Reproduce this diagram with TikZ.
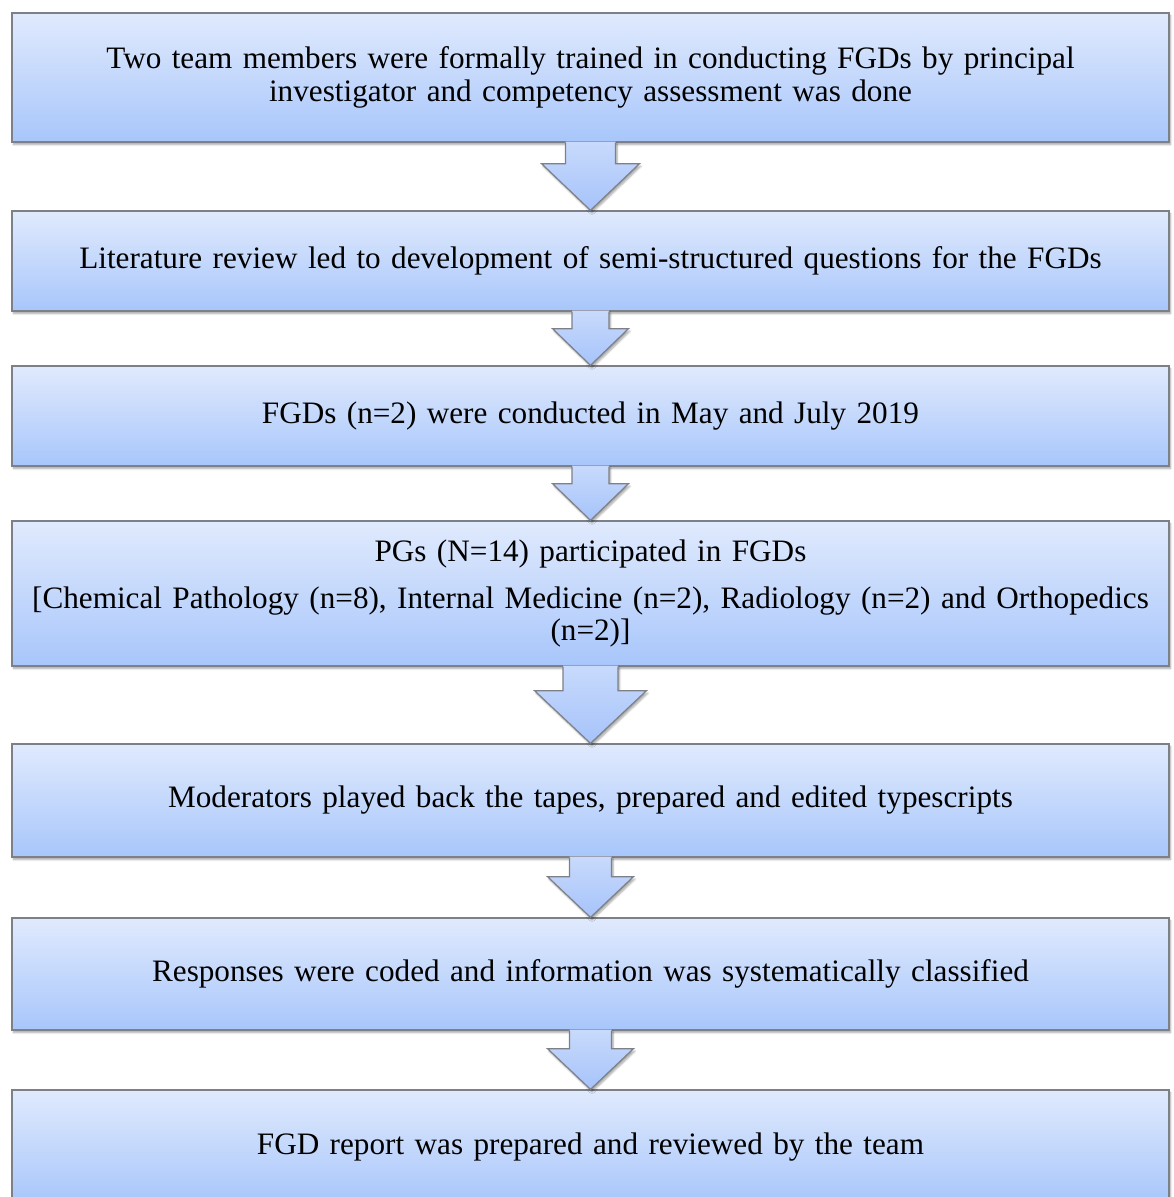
\documentclass[tikz,border=0pt]{standalone}
\usepackage{fontspec}
\setmainfont{Liberation Serif}
\usetikzlibrary{calc,shadows.blur}
\definecolor{boxtop}{RGB}{224,234,253}
\definecolor{boxbot}{RGB}{168,198,251}
\definecolor{arrtop}{RGB}{200,218,252}
\definecolor{arrbot}{RGB}{166,195,250}
\definecolor{edgegray}{RGB}{125,128,135}
\tikzset{
  flowbox/.style={draw=edgegray, line width=1.3pt, top color=boxtop, bottom color=boxbot,
    minimum width=1157pt, text width=1150pt, align=center, inner sep=0pt,
    font=\fontsize{31.2}{32.5}\selectfont,
    blur shadow={shadow xshift=1.5pt, shadow yshift=-2.5pt, shadow blur steps=6, shadow opacity=35}},
  arrowbody/.style={top color=arrtop, bottom color=arrbot,
    blur shadow={shadow xshift=1.5pt, shadow yshift=-2.5pt, shadow blur steps=6, shadow opacity=35}},
  arrowedge/.style={draw=edgegray, line width=1.2pt, line join=miter}
}
% #1 source, #2 target, #3 shaft half width, #4 head half width, #5 head start below source
\newcommand{\flowarrow}[5]{%
  \path[arrowbody] ($(#1.south)+(-#3,-1)$) -- ($(#1.south)+(-#3,#5)$) -- ($(#1.south)+(-#4,#5)$)
     -- (#2.north) -- ($(#1.south)+(#4,#5)$) -- ($(#1.south)+(#3,#5)$) -- ($(#1.south)+(#3,-1)$) -- cycle;
  \draw[arrowedge] ($(#1.south)+(-#3,0)$) -- ($(#1.south)+(-#3,#5)$) -- ($(#1.south)+(-#4,#5)$)
     -- (#2.north) -- ($(#1.south)+(#4,#5)$) -- ($(#1.south)+(#3,#5)$) -- ($(#1.south)+(#3,0)$);
}
\begin{document}
\begin{tikzpicture}[x=1pt, y={(0pt,-1pt)}]
\useasboundingbox (0,0) rectangle (1174,1197);
\node[flowbox, minimum height=129pt] (b1) at (590.5,77.5)
  {Two team members were formally trained in conducting FGDs by principal\\investigator and competency assessment was done};
\node[flowbox, minimum height=100pt] (b2) at (590.5,261)
  {Literature review led to development of semi-structured questions for the FGDs};
\node[flowbox, minimum height=100pt] (b3) at (590.5,416)
  {FGDs (n=2) were conducted in May and July 2019};
\node[flowbox, minimum height=145pt] (b4) at (590.5,593.5)
  {PGs (N=14) participated in FGDs\\[14pt][Chemical Pathology (n=8), Internal Medicine (n=2), Radiology (n=2) and Orthopedics\\(n=2)]};
\node[flowbox, minimum height=113pt] (b5) at (590.5,800.5)
  {Moderators played back the tapes, prepared and edited typescripts};
\node[flowbox, minimum height=112pt] (b6) at (590.5,974)
  {Responses were coded and information was systematically classified};
\node[flowbox, minimum height=114pt] (b7) at (590.5,1147)
  {FGD report was prepared and reviewed by the team};
\flowarrow{b1}{b2}{25}{49}{21}
\flowarrow{b2}{b3}{18.5}{38}{17}
\flowarrow{b3}{b4}{18.5}{38}{17}
\flowarrow{b4}{b5}{27.5}{56}{24}
\flowarrow{b5}{b6}{21}{43}{19}
\flowarrow{b6}{b7}{21}{43}{18}
\end{tikzpicture}
\end{document}
